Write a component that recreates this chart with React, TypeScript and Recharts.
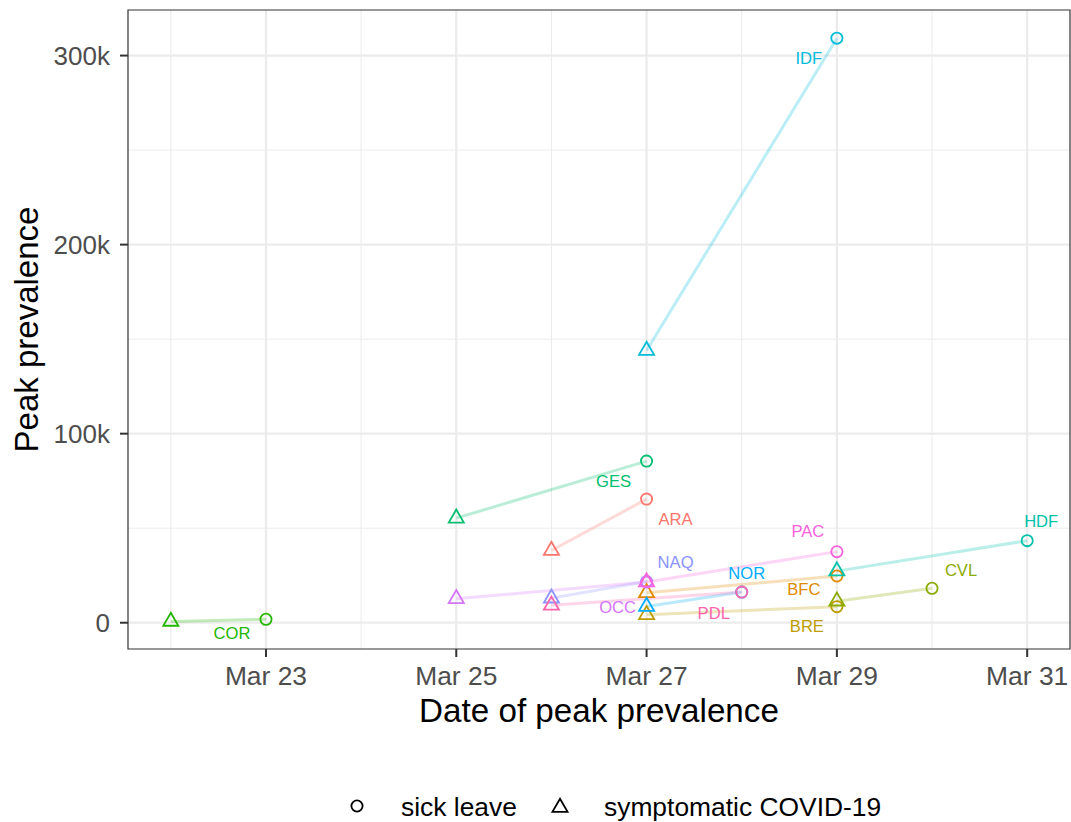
import React from 'react';
import { ScatterChart, Scatter, XAxis, YAxis, CartesianGrid, ReferenceArea } from 'recharts';

// ---- data ----
const regions = ['ARA', 'BFC', 'BRE', 'CVL', 'COR', 'GES', 'HDF', 'IDF', 'NOR', 'NAQ', 'OCC', 'PAC', 'PDL'];
const regionColors = ['#F8766D', '#E18A00', '#BE9C00', '#8CAB00', '#24B700', '#00BE70', '#00C1AB', '#00BBDA', '#00ACFC', '#8B93FF', '#D575FE', '#F962DD', '#FF65AC'];
// day of March
const symptomDay = [26, 27, 27, 29, 22, 25, 29, 27, 27, 26, 25, 27, 26];
const symptomPeak = [38200, 15800, 4200, 11400, 700, 55300, 27300, 144000, 8600, 13000, 12700, 21500, 9200];
const sickLeaveDay = [27, 29, 29, 30, 23, 27, 31, 29, 28, 27, 27, 29, 28];
const sickLeavePeak = [65400, 24700, 8500, 18200, 1800, 85500, 43400, 309200, 16200, 21800, 21500, 37600, 16200];

const xTicks = [23, 25, 27, 29, 31];
const xMinorTicks = [22, 24, 26, 28, 30];
const yTicks = [0, 100000, 200000, 300000];
const yMinorTicks = [50000, 150000, 250000];
const xDomain = [21.55, 31.45];
const yDomain = [-13900, 324100];
const legendLabels = ['sick leave', 'symptomatic COVID-19'];
const xTitle = 'Date of peak prevalence';
const yTitle = 'Peak prevalence';

// label placement (pixel offsets from the sick-leave point, like ggrepel)
const labelOffsets: Record<string, [number, number]> = {
  ARA: [29, 20], BFC: [-33, 13], BRE: [-30, 20], CVL: [29, -18], COR: [-34, 14],
  GES: [-33, 20], HDF: [14, -19], IDF: [-28, 20], NOR: [5, -19], NAQ: [29, -19],
  OCC: [-29, 25], PAC: [-29, -20], PDL: [-28, 21],
};

const FONT = '"Liberation Sans", Arial, Helvetica, sans-serif';

const seriesData = regions.map((r, i) => [
  { x: symptomDay[i], y: symptomPeak[i], kind: 'tri', region: r },
  { x: sickLeaveDay[i], y: sickLeavePeak[i], kind: 'circ', region: r },
]);

const R = 5.6;
const triPath = (cx: number, cy: number) => {
  const top = cy - 1.5551 * R;
  const bot = cy + 0.7776 * R;
  const hw = 1.3468 * R;
  return `M${cx},${top} L${cx + hw},${bot} L${cx - hw},${bot} Z`;
};

const makePointShape = (color: string) => (props: any) => {
  const { cx, cy, payload } = props;
  if (cx == null || cy == null) return <g />;
  if (payload && payload.kind === 'tri') {
    return <path d={triPath(cx, cy)} fill="none" stroke={color} strokeWidth={1.8} strokeLinejoin="miter" />;
  }
  return <circle cx={cx} cy={cy} r={R} fill="none" stroke={color} strokeWidth={1.8} />;
};

const makeLabelShape = (color: string, region: string) => (props: any) => {
  const { cx, cy, payload } = props;
  if (cx == null || cy == null || !payload || payload.kind !== 'circ') return <g />;
  const [dx, dy] = labelOffsets[region] || [0, 0];
  return (
    <text x={cx + dx} y={cy + dy} dy="0.35em" textAnchor="middle" fill={color} fontSize={16.6} fontFamily={FONT}>
      {region}
    </text>
  );
};

const noShape = () => <g />;

const yFmt = (v: number) => (v === 0 ? '0' : `${v / 1000}k`);
const xFmt = (v: number) => `Mar ${v}`;

export default function App() {
  return (
    <div style={{ position: 'absolute', left: 0, top: 0, width: 1071, height: 822, background: '#fff' }}>
      <ScatterChart width={1071} height={822} margin={{ top: 10, right: 1, bottom: 123, left: 68 }}>
        <CartesianGrid horizontalValues={yMinorTicks} verticalValues={xMinorTicks} stroke="#EBEBEB" strokeWidth={1} />
        <CartesianGrid horizontalValues={yTicks} verticalValues={xTicks} stroke="#EBEBEB" strokeWidth={2.2} />
        <XAxis
          type="number"
          dataKey="x"
          domain={xDomain}
          allowDataOverflow
          ticks={xTicks}
          tickFormatter={xFmt}
          height={50}
          tickSize={8}
          tickMargin={9}
          axisLine={false}
          tickLine={{ stroke: '#333333', strokeWidth: 2 }}
          tick={{ fill: '#4D4D4D', fontSize: 26.4, fontFamily: FONT }}
        />
        <YAxis
          type="number"
          dataKey="y"
          domain={yDomain}
          allowDataOverflow
          ticks={yTicks}
          tickFormatter={yFmt}
          width={60}
          tickSize={8}
          tickMargin={10}
          axisLine={false}
          tickLine={{ stroke: '#333333', strokeWidth: 2 }}
          tick={{ fill: '#4D4D4D', fontSize: 26, fontFamily: FONT }}
        />
        {regions.map((r, i) => (
          <Scatter
            key={`line-${r}`}
            data={seriesData[i]}
            line={{ stroke: regionColors[i], strokeOpacity: 0.27, strokeWidth: 3 }}
            lineType="joint"
            shape={noShape}
            fill={regionColors[i]}
            isAnimationActive={false}
          />
        ))}
        {regions.map((r, i) => (
          <Scatter
            key={`pts-${r}`}
            data={seriesData[i]}
            shape={makePointShape(regionColors[i])}
            fill={regionColors[i]}
            isAnimationActive={false}
          />
        ))}
        {regions.map((r, i) => (
          <Scatter
            key={`lbl-${r}`}
            data={seriesData[i]}
            shape={makeLabelShape(regionColors[i], r)}
            fill={regionColors[i]}
            isAnimationActive={false}
          />
        ))}
        <ReferenceArea
          x1={xDomain[0]}
          x2={xDomain[1]}
          y1={yDomain[0]}
          y2={yDomain[1]}
          fill="none"
          fillOpacity={0}
          stroke="#333333"
          strokeWidth={1.2}
          ifOverflow="visible"
        />
      </ScatterChart>
      <svg width={1071} height={822} style={{ position: 'absolute', left: 0, top: 0, pointerEvents: 'none' }}>
        <text x={599} y={722} textAnchor="middle" fontSize={33.2} fontFamily={FONT} fill="#000">
          {xTitle}
        </text>
        <text
          x={0}
          y={0}
          transform="translate(37.5,329.5) rotate(-90)"
          textAnchor="middle"
          fontSize={33}
          fontFamily={FONT}
          fill="#000"
        >
          {yTitle}
        </text>
        <circle cx={357} cy={806} r={R} fill="none" stroke="#000" strokeWidth={1.8} />
        <text x={401} y={815.5} fontSize={26.4} fontFamily={FONT} fill="#000">
          {legendLabels[0]}
        </text>
        <path d={triPath(560, 807.5)} fill="none" stroke="#000" strokeWidth={1.8} />
        <text x={604} y={815.5} fontSize={26.4} fontFamily={FONT} fill="#000">
          {legendLabels[1]}
        </text>
      </svg>
    </div>
  );
}
